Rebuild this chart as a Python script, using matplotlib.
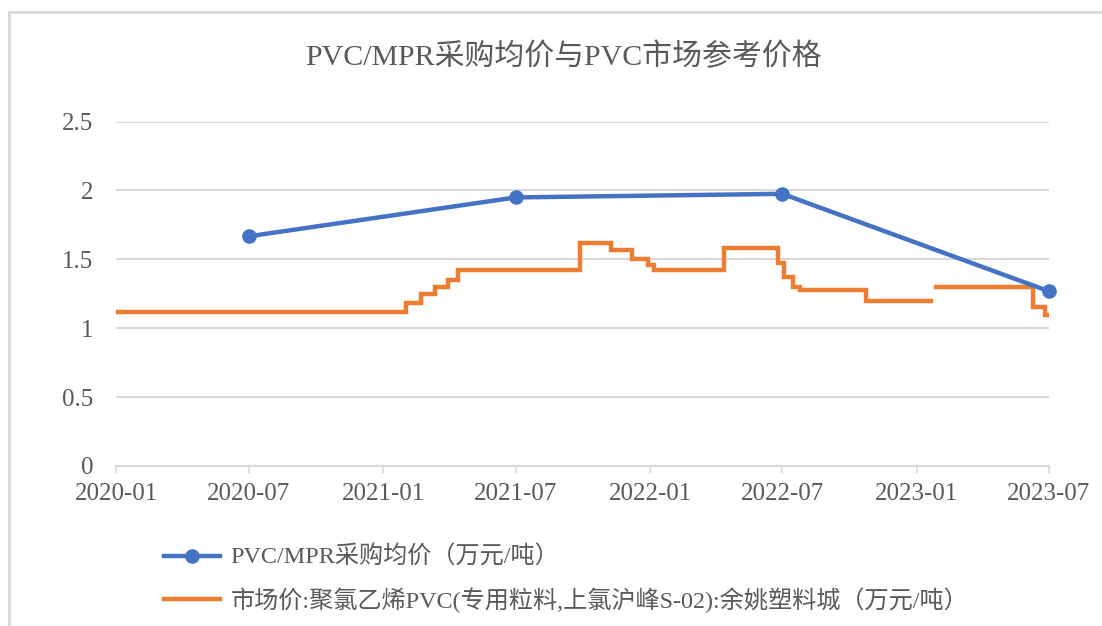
import matplotlib
matplotlib.use("Agg")
import matplotlib.pyplot as plt
from matplotlib.lines import Line2D
import numpy as np
import pandas as pd

plt.rcParams['font.family'] = ['Liberation Serif', 'Noto Sans CJK SC', 'DejaVu Sans']

title = "PVC/MPR采购均价与PVC市场参考价格"
label_blue = "PVC/MPR采购均价（万元/吨）"
label_orange = "市场价:聚氯乙烯PVC(专用粒料,上氯沪峰S-02):余姚塑料城（万元/吨）"

blue_dates = ["2020-07-01", "2021-07-01", "2022-07-01", "2023-07-01"]
blue_values = [1.667, 1.949, 1.975, 1.268]

orange_dates = ["2020-01-01", "2021-02-01", "2021-02-22", "2021-03-12", "2021-03-31",
                "2021-04-13", "2021-09-27", "2021-11-08", "2021-12-07", "2021-12-29",
                "2022-01-07", "2022-04-12", "2022-06-25", "2022-07-03", "2022-07-16",
                "2022-07-25", "2022-10-24", "2023-01-21", "2023-01-28", "2023-06-09",
                "2023-06-25", "2023-07-01"]
orange_values = [1.12, 1.18, 1.245, 1.30, 1.35,
                 1.42, 1.615, 1.57, 1.50, 1.46,
                 1.42, 1.585, 1.47, 1.37, 1.30,
                 1.28, 1.20, np.nan, 1.30, 1.155,
                 1.095, 1.095]

xtick_dates = ["2020-01-01", "2020-07-01", "2021-01-01", "2021-07-01",
               "2022-01-01", "2022-07-01", "2023-01-01", "2023-07-01"]
xtick_labels = ["2020-01", "2020-07", "2021-01", "2021-07",
                "2022-01", "2022-07", "2023-01", "2023-07"]
yticks = [0, 0.5, 1, 1.5, 2, 2.5]
ytick_labels = ["0", "0.5", "1", "1.5", "2", "2.5"]

BLUE = "#4472C4"
ORANGE = "#ED7D31"
GRID = "#D9D9D9"
TXT = "#595959"

W, H = 1102, 626
fig = plt.figure(figsize=(W / 100, H / 100), dpi=100)
fig.patch.set_facecolor("white")

# chart border (top and left visible)
fig.add_artist(Line2D([9 / W, 1.0], [1 - 12 / H, 1 - 12 / H], color=GRID, lw=2, transform=fig.transFigure))
fig.add_artist(Line2D([9 / W, 9 / W], [0, 1 - 12 / H], color=GRID, lw=2, transform=fig.transFigure))

ax = fig.add_axes([116 / W, 160 / H, 933 / W, 344.5 / H])

bd = pd.to_datetime(blue_dates)
od = pd.to_datetime(orange_dates)

ax.plot(od, orange_values, drawstyle="steps-post", color=ORANGE, lw=3.2,
        solid_joinstyle="miter", zorder=3)
ax.plot(bd, blue_values, color=BLUE, lw=3.2, marker="o", markersize=9.5,
        markerfacecolor=BLUE, markeredgecolor=BLUE, zorder=4, clip_on=False)

ax.set_xlim(pd.Timestamp("2020-01-01"), pd.Timestamp("2023-07-01"))
ax.set_ylim(0, 2.5)
ax.set_yticks(yticks)
ax.set_yticklabels(ytick_labels)
ax.set_xticks(pd.to_datetime(xtick_dates))
ax.set_xticklabels(xtick_labels)

for s in ["left", "right", "top"]:
    ax.spines[s].set_visible(False)
ax.spines["bottom"].set_color(GRID)
ax.spines["bottom"].set_linewidth(1.5)
ax.yaxis.grid(True, color=GRID, lw=1.5)
ax.set_axisbelow(True)
ax.tick_params(axis="y", length=0, pad=16.5, labelsize=18, labelcolor=TXT)
ax.tick_params(axis="x", length=5, width=1.2, color=GRID, direction="out",
               pad=7.5, labelsize=18, labelcolor=TXT)

fig.text(563 / W, 1 - 57 / H, title, ha="center", va="center", fontsize=21.5, color=TXT)

handles = [Line2D([0], [0], color=BLUE, lw=3.2, marker="o", markersize=9.5),
           Line2D([0], [0], color=ORANGE, lw=3.2)]
fig.legend(handles, [label_blue, label_orange], loc="upper left",
           bbox_to_anchor=(164 / W, 1 - 546 / H), frameon=False,
           fontsize=17.4, labelcolor=TXT, handlelength=2.3, handletextpad=0.45,
           labelspacing=0.75, borderaxespad=0, borderpad=0)

fig.savefig("out.png", dpi=100, facecolor="white")
